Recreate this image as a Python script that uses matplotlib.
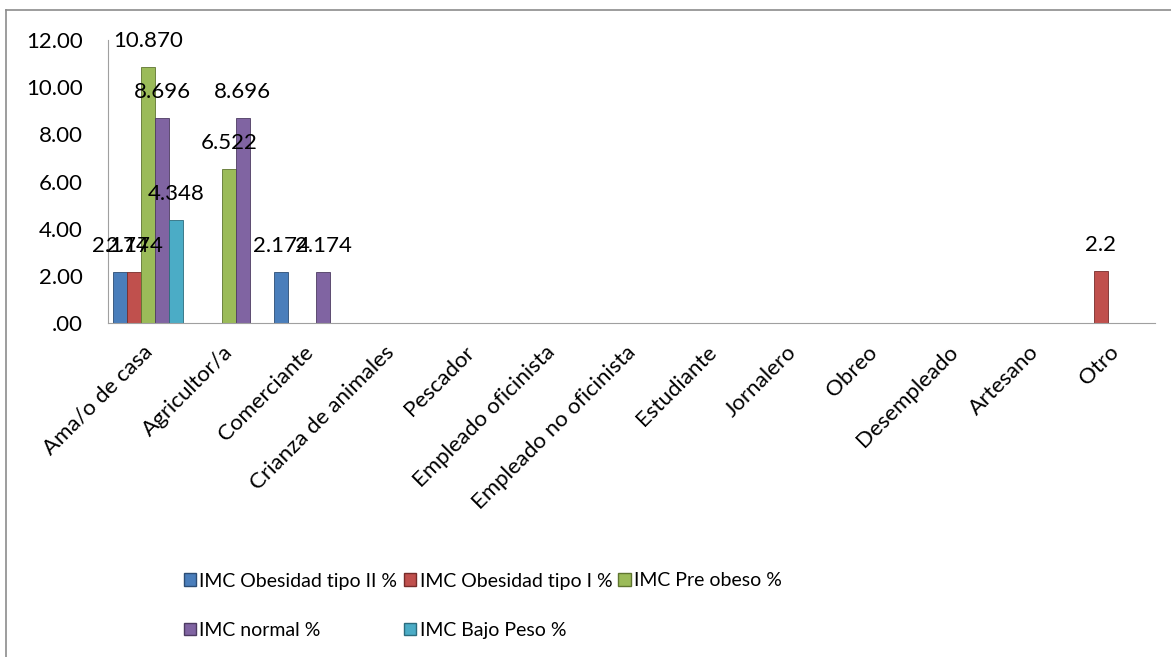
import numpy as np
import matplotlib
matplotlib.use("Agg")
import matplotlib.pyplot as plt
import matplotlib.transforms as mtransforms
from matplotlib.lines import Line2D
from matplotlib.patches import Patch

plt.rcParams['font.family'] = ['Lato', 'DejaVu Sans']

# Categories and series
categories = ["Ama/o de casa", "Agricultor/a", "Comerciante", "Crianza de animales",
              "Pescador", "Empleado oficinista", "Empleado no oficinista", "Estudiante",
              "Jornalero", "Obreo", "Desempleado", "Artesano", "Otro"]
series_names = ["IMC Obesidad tipo II %", "IMC Obesidad tipo I %", "IMC Pre obeso %",
                "IMC normal %", "IMC Bajo Peso %"]
obesidad_2 = [2.174, 0, 2.174, 0, 0, 0, 0, 0, 0, 0, 0, 0, 0]
obesidad_1 = [2.174, 0, 0, 0, 0, 0, 0, 0, 0, 0, 0, 0, 2.2]
pre_obeso = [10.870, 6.522, 0, 0, 0, 0, 0, 0, 0, 0, 0, 0, 0]
normal = [8.696, 8.696, 2.174, 0, 0, 0, 0, 0, 0, 0, 0, 0, 0]
bajo_peso = [4.348, 0, 0, 0, 0, 0, 0, 0, 0, 0, 0, 0, 0]
# labels as shown on the chart (empty = no label)
labels_2 = ["2.174", "", "2.174", "", "", "", "", "", "", "", "", "", ""]
labels_1 = ["2.174", "", "", "", "", "", "", "", "", "", "", "", "2.2"]
labels_pre = ["10.870", "6.522", "", "", "", "", "", "", "", "", "", "", ""]
labels_norm = ["8.696", "8.696", "2.174", "", "", "", "", "", "", "", "", "", ""]
labels_bajo = ["4.348", "", "", "", "", "", "", "", "", "", "", "", ""]

colors = ["#4A7EBB", "#C0504D", "#9BBB59", "#8064A2", "#4BACC6"]
edges = ["#2C4D75", "#772C2A", "#5F7530", "#4D3B62", "#2C6C7E"]

fig = plt.figure(figsize=(11.71, 6.57), dpi=100)
ax = fig.add_axes([108 / 1171, 1 - 323 / 657, (1155 - 108) / 1171, (323 - 40) / 657])

x = np.arange(len(categories))
bw = 14 / 80.5
all_vals = [obesidad_2, obesidad_1, pre_obeso, normal, bajo_peso]
all_labels = [labels_2, labels_1, labels_pre, labels_norm, labels_bajo]
for i, (vals, labs) in enumerate(zip(all_vals, all_labels)):
    pos = x + (i - 2) * bw
    ax.bar(pos, vals, width=bw, color=colors[i], edgecolor=edges[i], linewidth=0.6)
    for p, v, t in zip(pos, vals, labs):
        if t:
            ax.annotate(t, (p, v), xytext=(0, 26), textcoords="offset pixels",
                        ha="center", va="center", fontsize=16)

ax.set_xlim(-0.5, len(categories) - 0.5)
ax.set_ylim(0, 12)
ax.set_yticks(np.arange(0, 13, 2))
ax.set_yticklabels([".00", "2.00", "4.00", "6.00", "8.00", "10.00", "12.00"], fontsize=16)
ax.set_xticks(x)
ax.set_xticklabels([])
ax.tick_params(axis="both", length=0)
ax.tick_params(axis="y", pad=18)
for s in ["top", "right"]:
    ax.spines[s].set_visible(False)
ax.spines["left"].set_color("#A0A0A0")
ax.spines["bottom"].set_color("#A0A0A0")

# category names, rotated, right end just below each tick
lab_tr = mtransforms.offset_copy(ax.get_xaxis_transform(), fig=fig, x=1, y=-26, units="dots")
for xi, cat in zip(x, categories):
    ax.text(xi, 0, cat, transform=lab_tr, rotation=45, rotation_mode="anchor",
            ha="right", va="center", fontsize=16)

# legend fills column-wise, so order handles to read row-wise like the original
order = [0, 3, 1, 4, 2]
handles = [Patch(facecolor=colors[i], edgecolor=edges[i]) for i in order]
fig.legend(handles, [series_names[i] for i in order], ncol=3, loc="upper left",
           bbox_to_anchor=(166 / 1171, 1 - 555 / 657), frameon=False, fontsize=14,
           handlelength=0.62, handleheight=0.62, handletextpad=0.2,
           columnspacing=0.32, labelspacing=1.66)

# outer chart frame (top and left edges visible)
fig.add_artist(Line2D([6 / 1171, 1], [1 - 10 / 657, 1 - 10 / 657], color="#8C8C8C", lw=1.2))
fig.add_artist(Line2D([6 / 1171, 6 / 1171], [0, 1 - 10 / 657], color="#8C8C8C", lw=1.2))

fig.savefig("out.png", dpi=100)
